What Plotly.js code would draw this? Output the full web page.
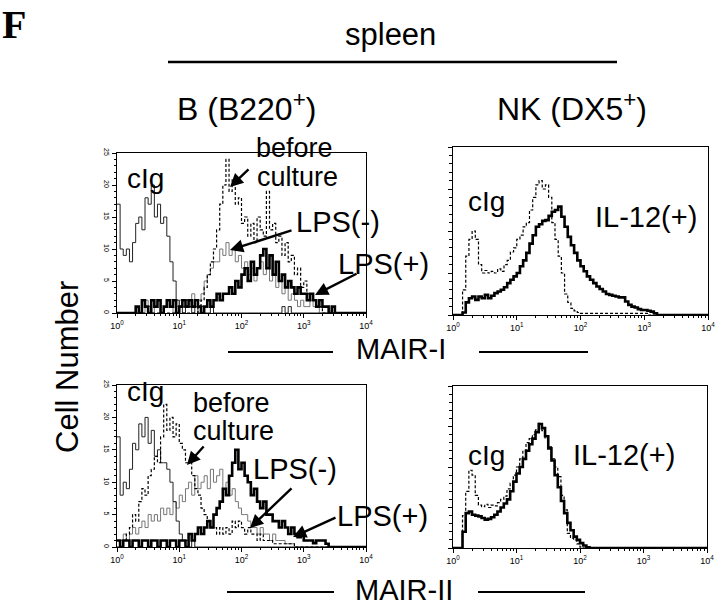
<!DOCTYPE html>
<html>
<head>
<meta charset="utf-8">
<script src="https://cdn.plot.ly/plotly-3.0.1.min.js"></script>
<style>html,body{margin:0;padding:0;background:#fff;}#chart{width:720px;height:606px;}</style>
</head>
<body>
<div id="chart"></div>
<script>
// ---------- DATA (log10 fluorescence channels, cell counts) ----------
const logBins = [0.00,0.05,0.10,0.15,0.20,0.25,0.30,0.35,0.40,0.45,
  0.50,0.55,0.60,0.65,0.70,0.75,0.80,0.85,0.90,0.95,
  1.00,1.05,1.10,1.15,1.20,1.25,1.30,1.35,1.40,1.45,
  1.50,1.55,1.60,1.65,1.70,1.75,1.80,1.85,1.90,1.95,
  2.00,2.05,2.10,2.15,2.20,2.25,2.30,2.35,2.40,2.45,
  2.50,2.55,2.60,2.65,2.70,2.75,2.80,2.85,2.90,2.95,
  3.00,3.05,3.10,3.15,3.20,3.25,3.30,3.35,3.40,3.45,
  3.50,3.55,3.60,3.65,3.70,3.75,3.80,3.85,3.90,3.95,4.00];

const xTickVals = [0,1,2,3,4];
const xTickText = ["10<sup>0</sup>","10<sup>1</sup>","10<sup>2</sup>","10<sup>3</sup>","10<sup>4</sup>"];
const yTickValsB = [0,5,10,15,20,25];
const yTickTextB = ["0","5","10","15","20","25"];

// B cells, MAIR-I
const bMair1_cIg = [17,10,9,10,8,11,14,15,13,18, 17,20,15,17,14,15,12,8,5,2,
  1,0,2,1,0,1,0,1,0,0, 1,0,0,0,0,0,0,0,0,0, 0,0,0,0,0,0,0,0,0,0,
  0,0,0,1,0,1,0,0,0,0, 0,0,0,0,0,0,0,0,0,0, 0,0,0,0,0,0,0,0,0,0,0];
const bMair1_before = [0,0,0,0,0,0,0,0,0,0, 0,0,0,0,0,0,0,0,0,0,
  0,0,0,0,0,0,1,2,4,6, 8,10,13,17,20,24,19,21,17,18,
  14,15,12,14,11,15,13,12,19,13, 14,11,12,9,11,8,9,6,7,4,
  5,3,3,2,1,1,0,0,0,0, 0,0,0,0,0,0,0,0,0,0,0];
const bMair1_lpsNeg = [0,0,0,0,0,0,1,0,0,2, 1,0,1,2,0,1,2,1,0,1,
  2,1,2,1,3,2,2,3,5,6, 7,8,8,10,9,11,9,10,8,9,
  7,8,6,7,5,7,8,6,7,5, 6,4,5,3,4,2,3,2,1,2,
  1,1,2,1,1,0,0,0,0,0, 0,0,0,0,0,0,0,0,0,0,0];
const bMair1_lpsPos = [0,0,0,0,0,0,1,0,2,1, 0,2,1,2,0,1,2,1,2,0,
  1,2,1,2,1,2,1,0,1,2, 1,2,3,2,3,3,4,3,5,4,
  6,7,5,8,6,7,9,10,7,9, 6,8,5,6,4,5,4,3,4,3,
  3,2,3,2,1,2,1,1,0,1, 0,0,0,0,0,0,0,0,0,0,0];

// NK cells, MAIR-I
const nkMair1_cIg = [0,0,0,3,7,9,10,9,6,5, 5.3,5,5.2,5,5.5,5.2,6,6.5,7.5,8,
  9,9.5,10.5,11,12.5,14,15.5,16,15,15.5, 14,11,9,7,5,2.5,1.5,0.8,0.5,0.3,
  0.2,0.2,0.2,0.2,0.2,0.2,0.2,0.2,0.2,0.2, 0.2,0.2,0.2,0.2,0.2,0.2,0.2,0.2,0.2,0.2,
  0.2,0,0,0,0,0,0,0,0,0, 0,0,0,0,0,0,0,0,0,0,0];
const nkMair1_il12 = [0,0,0,0.3,1.5,2,2.2,1.8,2.2,2, 2.4,2,2.3,2.6,2.8,3,3.3,3.8,4.2,4.6,
  5,5.8,6.5,7.4,8.5,9.5,10.5,10.8,11.2,11.3, 11.8,12.3,12.5,12.9,11.7,10.5,9.3,8.3,7.4,6.5,
  5.8,5.2,4.6,4.2,3.8,3.4,3.1,2.8,2.5,2.4, 2.3,2.2,2.1,2.1,1.6,1.2,1.0,0.9,0.7,0.6,
  0.6,0.5,0.4,0.2,0,0,0,0,0,0, 0,0,0,0,0,0,0,0,0,0,0];

// B cells, MAIR-II
const bMair2_cIg = [17,8,10,9,12,16,15,19,17,20, 16,18,14,15,13,13,12,10,7,4,
  2,1,1,0,1,0,0,0,0,0, 0,0,0,0,0,0,0,0,0,0, 0,0,0,0,0,0,0,0,0,0,
  0,0,0,0,0,0,0,0,0,0, 0,0,0,0,0,0,0,0,0,0, 0,0,0,0,0,0,0,0,0,0,0];
const bMair2_before = [0,0,1,2,3,5,4,7,9,8, 11,12,14,13,17,22,18,20,17,19,
  16,15,13,13,11,9,8,6,5,4, 3,3,2,3,2,3,2,4,3,4,
  3,2,3,2,2,1,2,1,1,1, 0.5,0.5,0.5,0.5,0.5,0.5,0.5,0,0,0,
  0,0,0,0,0,0,0,0,0,0, 0,0,0,0,0,0,0,0,0,0,0];
const bMair2_lpsNeg = [1,1,2,1,2,3,2,3,4,3, 5,4,5,4,6,5,6,5,7,6,
  8,7,9,10,8,11,9,10,11,9, 12,10,11,12,9,10,8,9,7,6,
  5,5,4,3,3,2,3,2,2,1, 2,1,1,1,0.5,0.5,0.5,0,0,0,
  0,0,0,0,0,0,0,0,0,0, 0,0,0,0,0,0,0,0,0,0,0];
const bMair2_lpsPos = [1,0,1,1,0,1,1,0,1,1, 0,1,1,0,1,1,0,1,1,0,
  1,1,0,2,1,2,3,2,3,4, 3,5,6,7,9,8,11,13,15,12,
  13,11,10,8,9,7,6,7,5,5, 4,4,3,4,3,2,3,2,1.5,2,
  1,1,1,0.6,1,1,1,0.5,0,0, 0,0,0,0,0,0,0,0,0,0,0];

// NK cells, MAIR-II
const nkMair2_cIg = [0,0,0,4,7,9.6,9,6.5,5.3,5.1, 5.4,5,5.3,5.2,5.6,6,6.4,7.3,8,9,
  10,11,12,13,13.5,14,14.6,15.4,14.5,13.5, 12.5,11,10,8.8,6.5,4.7,1.8,1.2,1,0.5,
  0.1,0,0,0,0,0,0,0,0,0, 0,0,0,0,0,0,0,0,0,0,
  0,0,0,0,0,0,0,0,0,0, 0,0,0,0,0,0,0,0,0,0,0];
const nkMair2_il12 = [0,0,0,2,4.3,4.5,4.1,4.0,3.9,3.7, 3.5,3.6,3.8,4.1,4.5,5,5.5,6,7,8.2,
  9.2,10,11,12,12.8,13.5,14.3,15.3,14.8,13.8, 12.3,10.8,9,7.5,5.8,4.3,3.1,2.2,1.4,1,
  0.6,0.3,0.1,0,0,0,0,0,0,0, 0,0,0,0,0,0,0,0,0,0,
  0,0,0,0,0,0,0,0,0,0, 0,0,0,0,0,0,0,0,0,0,0];

// ---------- LAYOUT HELPERS ----------
const W = 720, H = 606;
const px = x => x / W;
const py = y => 1 - y / H;
const FONT = '"Liberation Sans", Arial, Helvetica, sans-serif';

const minorLog = [];
[0,1,2,3].forEach(d => { for (let k = 2; k <= 9; k++) minorLog.push(d + Math.log10(k)); });

function xAxis(x0, x1, anchor) {
  return {
    domain: [px(x0), px(x1)], range: [0, 4], anchor: anchor,
    tickmode: 'array', tickvals: xTickVals, ticktext: xTickText,
    tickfont: {family: FONT, size: 9, color: '#000'},
    ticks: 'outside', ticklen: 4, tickwidth: 1, tickcolor: '#000',
    minor: {tickmode: 'array', tickvals: minorLog, ticks: 'outside', ticklen: 2, tickcolor: '#000'},
    showline: true, linecolor: '#000', linewidth: 1, mirror: true,
    showgrid: false, zeroline: false, fixedrange: true
  };
}
function yAxisB(y0, y1, anchor) {
  return {
    domain: [py(y1), py(y0)], range: [0, 25], anchor: anchor,
    tickmode: 'array', tickvals: yTickValsB, ticktext: yTickTextB, tickangle: 90,
    tickfont: {family: FONT, size: 7, color: '#000'},
    ticks: 'outside', ticklen: 4, tickwidth: 1, tickcolor: '#000',
    minor: {dtick: 1, ticks: 'outside', ticklen: 2, tickcolor: '#000'},
    showline: true, linecolor: '#000', linewidth: 1, mirror: true,
    showgrid: false, zeroline: false, fixedrange: true
  };
}
function yAxisNK(y0, y1, anchor) {
  return {
    domain: [py(y1), py(y0)], range: [0, 20], anchor: anchor,
    dtick: 5, showticklabels: false,
    ticks: 'outside', ticklen: 4, tickwidth: 1, tickcolor: '#000',
    minor: {dtick: 1, ticks: 'outside', ticklen: 3, tickcolor: '#000'},
    showline: true, linecolor: '#000', linewidth: 1, mirror: true,
    showgrid: false, zeroline: false, fixedrange: true
  };
}

const thin = {color: '#222', width: 1, shape: 'hv'};
const gray = {color: '#777', width: 1, shape: 'hv'};
const dash = {color: '#000', width: 1.2, dash: '3px,2px', shape: 'hv'};
const thick = {color: '#000', width: 2.6, shape: 'hv'};

function tr(y, line, xa, ya, name) {
  return {x: logBins, y: y, type: 'scatter', mode: 'lines', line: line, xaxis: xa, yaxis: ya, name: name, hoverinfo: 'skip'};
}

const data = [
  tr(bMair1_lpsNeg, gray, 'x', 'y', 'LPS(-)'),
  tr(bMair1_cIg, thin, 'x', 'y', 'cIg'),
  tr(bMair1_before, dash, 'x', 'y', 'before culture'),
  tr(bMair1_lpsPos, thick, 'x', 'y', 'LPS(+)'),
  tr(nkMair1_cIg, dash, 'x2', 'y2', 'cIg'),
  tr(nkMair1_il12, thick, 'x2', 'y2', 'IL-12(+)'),
  tr(bMair2_lpsNeg, gray, 'x3', 'y3', 'LPS(-)'),
  tr(bMair2_cIg, thin, 'x3', 'y3', 'cIg'),
  tr(bMair2_before, dash, 'x3', 'y3', 'before culture'),
  tr(bMair2_lpsPos, thick, 'x3', 'y3', 'LPS(+)'),
  tr(nkMair2_cIg, dash, 'x4', 'y4', 'cIg'),
  tr(nkMair2_il12, thick, 'x4', 'y4', 'IL-12(+)')
];

function txt(text, x, y, size, extra) {
  return Object.assign({text: text, xref: 'paper', yref: 'paper', x: px(x), y: py(y),
    xanchor: 'center', yanchor: 'middle', showarrow: false,
    font: {family: FONT, size: size || 28, color: '#000'}}, extra || {});
}
function arrow(tx, ty, tipX, tipY) {
  return {text: '', xref: 'paper', yref: 'paper', x: px(tipX), y: py(tipY),
    ax: tx - tipX, ay: ty - tipY, showarrow: true,
    arrowhead: 2, arrowsize: 1.1, arrowwidth: 2.4, arrowcolor: '#000'};
}

const annotations = [
  txt('<b>F</b>', 0, 0, 40, {xanchor: 'left', yanchor: 'top', font: {family: '"Liberation Serif", "Times New Roman", serif', size: 40, color: '#000'}}),
  txt('spleen', 390, 35, 31),
  txt('B (B220<sup>+</sup>)', 246, 107, 32),
  txt('NK (DX5<sup>+</sup>)', 572, 107, 32),
  txt('Cell Number', 68, 367, 31, {textangle: -90}),
  txt('MAIR-I', 401, 349, 29),
  txt('MAIR-II', 404, 590, 29),
  // top-left
  txt('cIg', 145, 178, 28),
  txt('before', 294, 148, 27),
  txt('culture', 297, 177, 27),
  txt('LPS(-)', 338, 222, 29),
  txt('LPS(+)', 383, 264, 29),
  arrow(250, 168, 230, 187),
  arrow(293, 230, 230, 250),
  arrow(358, 273, 315, 295),
  // top-right
  txt('cIg', 486, 201, 28),
  txt('IL-12(+)', 646, 217, 29),
  // bottom-left
  txt('cIg', 145, 392, 28),
  txt('before', 231, 403, 27),
  txt('culture', 233, 431, 27),
  txt('LPS(-)', 295, 469, 29),
  txt('LPS(+)', 382, 516, 29),
  arrow(205, 445, 187, 465),
  arrow(293, 487, 250, 528),
  arrow(337, 517, 293, 537),
  // bottom-right
  txt('cIg', 486, 455, 28),
  txt('IL-12(+)', 624, 455, 29)
];

function hline(x0, x1, y, w) {
  return {type: 'line', xref: 'paper', yref: 'paper', x0: px(x0), x1: px(x1), y0: py(y), y1: py(y),
    line: {color: '#000', width: w}};
}
const shapes = [
  hline(168, 617, 62, 2.5),
  hline(228, 333, 352, 2),
  hline(479, 588, 352, 2),
  hline(227, 334, 592, 2),
  hline(478, 585, 592, 2)
];

const layout = {
  width: W, height: H, margin: {l: 0, r: 0, t: 0, b: 0},
  paper_bgcolor: '#fff', plot_bgcolor: '#fff', showlegend: false,
  xaxis: xAxis(117, 366, 'y'),
  yaxis: yAxisB(153, 313, 'x'),
  xaxis2: xAxis(453, 708, 'y2'),
  yaxis2: yAxisNK(147, 315, 'x2'),
  xaxis3: xAxis(117, 366, 'y3'),
  yaxis3: yAxisB(385, 547, 'x3'),
  xaxis4: xAxis(453, 707, 'y4'),
  yaxis4: yAxisNK(386, 548, 'x4'),
  annotations: annotations,
  shapes: shapes
};

Plotly.newPlot('chart', data, layout, {displayModeBar: false, staticPlot: true});
</script>
</body>
</html>
